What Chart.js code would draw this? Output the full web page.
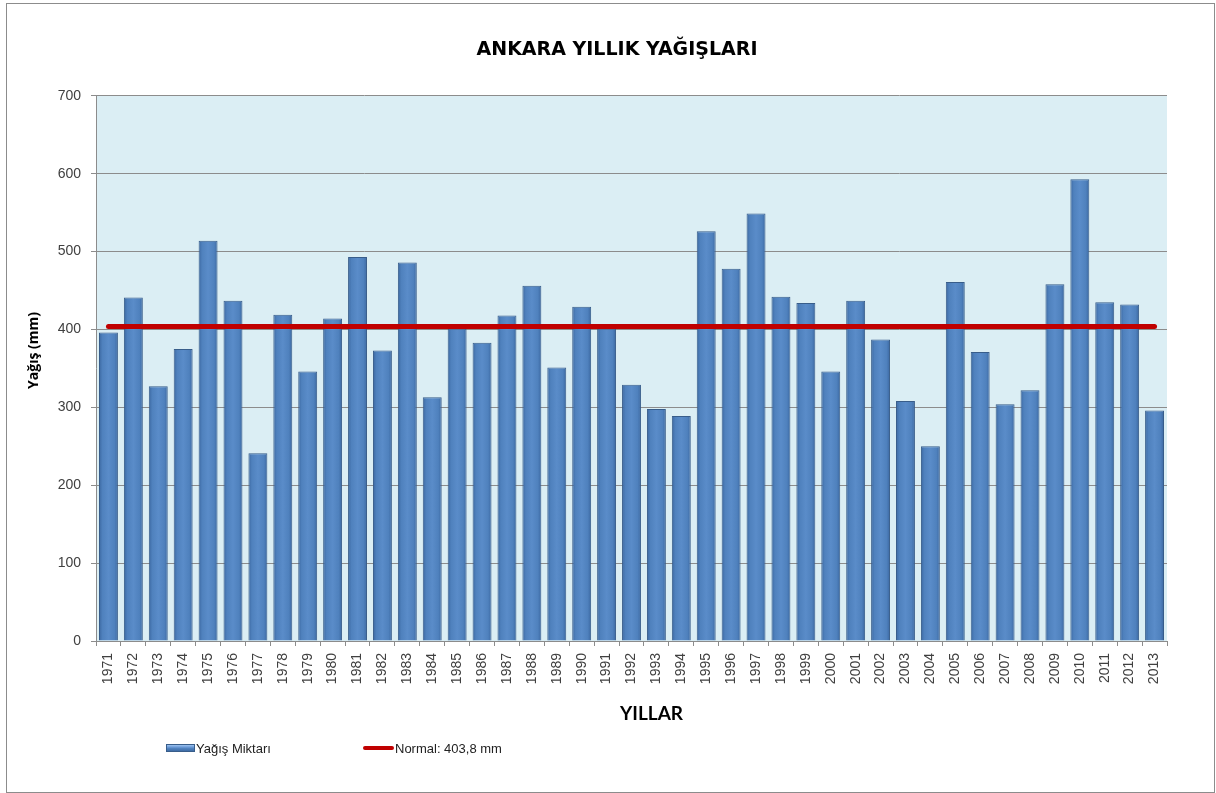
<!DOCTYPE html>
<html lang="tr">
<head>
<meta charset="UTF-8">
<title>Ankara Yıllık Yağışları</title>
<script src="https://cdn.jsdelivr.net/npm/chart.js"></script>
<style>
  body { margin: 0; background: #fff; font-family: 'Liberation Sans', Arial, sans-serif; }
  #wrap { position: absolute; left: 0; top: 0; width: 1216px; height: 793px; }
  #frame { position: absolute; left: 6px; top: 3px; width: 1209px; height: 790px; border: 1px solid #8c8c8c; box-sizing: border-box; }
  .leg { position: absolute; top: 740px; height: 16px; display: flex; align-items: center; font-size: 13px; color: #222; white-space: nowrap; }
  .leg .bar { width: 29px; height: 8px; margin-right: 1px; border: 1px solid #385d8a; box-sizing: border-box;
              background: linear-gradient(#9dc3f0 0%, #6c9bd8 35%, #4f81bd 60%, #3e6ca6 100%); }
  .leg .line { width: 31px; height: 4px; border-radius: 2px; background: #c00000; margin-right: 1px; }
</style>
</head>
<body>
<div id="frame"></div>
<div id="wrap"><canvas id="rainChart"></canvas></div>
<div class="leg" style="left:166px"><span class="bar"></span>Yağış Miktarı</div>
<div class="leg" style="left:363px"><span class="line"></span>Normal: 403,8 mm</div>

<script>
  // years and annual rainfall (mm)
  const years = ['1971','1972','1973','1974','1975','1976','1977','1978','1979','1980',
                 '1981','1982','1983','1984','1985','1986','1987','1988','1989','1990',
                 '1991','1992','1993','1994','1995','1996','1997','1998','1999','2000',
                 '2001','2002','2003','2004','2005','2006','2007','2008','2009','2010',
                 '2011','2012','2013'];
  const rainfall = [396, 441, 327, 375, 514, 437, 241, 419, 346, 414,
                    493, 373, 486, 313, 401, 383, 418, 456, 351, 429,
                    401, 329, 298, 289, 526, 478, 549, 442, 434, 346,
                    437, 387, 308, 250, 461, 371, 304, 322, 458, 593,
                    435, 432, 296];
  const normalValue = 403.8;
  // normal line runs from the first year to the last
  const normalLine = [
    { x: years[0], y: normalValue },
    { x: years[years.length - 1], y: normalValue }
  ];
  const yMin = 0, yMax = 700, yStep = 100;

  const axisGray = '#8c8c8c';
  const tickFont = { family: 'Liberation Sans', size: 14 };

  // light blue plot background, and the chart title pulled a bit to the right
  const plotBg = {
    id: 'plotBg',
    afterLayout(chart) {
      if (chart.titleBlock) chart.titleBlock.left = 67;
    },
    beforeDraw(chart) {
      const { ctx, chartArea: a } = chart;
      ctx.save();
      ctx.fillStyle = '#dbeef4';
      ctx.fillRect(a.left, a.top, a.right - a.left, a.bottom - a.top);
      ctx.restore();
    }
  };

  // shift an axis title by dx, dy (the original's titles are not centred)
  function nudgeTitle(scale, dx, dy) {
    if (scale._nudged) return;
    const orig = scale.drawTitle;
    scale.drawTitle = function () {
      const c = this.ctx;
      c.save();
      c.translate(dx, dy);
      orig.apply(this, arguments);
      c.restore();
    };
    scale._nudged = true;
  }

  // darker edges on each bar, like the shaded bars in the original
  function barFill(context) {
    const chart = context.chart;
    const xs = chart.scales.x;
    if (!chart.chartArea || !xs || context.dataIndex === undefined) return '#4f81bd';
    const xc = xs.getPixelForValue(context.dataIndex);
    const w = xs.width / years.length * 0.76;
    const g = chart.ctx.createLinearGradient(xc - w / 2, 0, xc + w / 2, 0);
    g.addColorStop(0, '#3b67a0');
    g.addColorStop(0.18, '#4f81bd');
    g.addColorStop(0.5, '#5a8cc9');
    g.addColorStop(0.82, '#4f81bd');
    g.addColorStop(1, '#3b67a0');
    return g;
  }

  const ctx = document.getElementById('rainChart').getContext('2d');
  new Chart(ctx, {
    plugins: [plotBg],
    data: {
      labels: years,
      datasets: [
        {
          type: 'line',
          label: 'Normal: 403,8 mm',
          data: normalLine,
          borderColor: '#c00000',
          borderWidth: 5,
          borderCapStyle: 'round',
          pointRadius: 0,
          order: 0
        },
        {
          type: 'bar',
          label: 'Yağış Miktarı',
          data: rainfall,
          backgroundColor: barFill,
          borderColor: '#385d8a',
          borderWidth: 1,
          barPercentage: 0.76,
          categoryPercentage: 1,
          order: 1
        }
      ]
    },
    options: {
      responsive: true,
      maintainAspectRatio: false,
      animation: false,
      layout: { padding: { left: 0, right: 49, top: 0, bottom: 62 } },
      plugins: {
        legend: { display: false },
        tooltip: { enabled: false },
        title: {
          display: true,
          text: 'ANKARA YILLIK YAĞIŞLARI',
          color: '#000',
          font: { family: 'DejaVu Sans', size: 19, weight: 'bold' },
          padding: { top: 39, bottom: 34 }
        }
      },
      scales: {
        x: {
          offset: true,
          grid: { display: true, drawOnChartArea: false, drawTicks: true, tickLength: 5, color: axisGray, offset: true },
          border: { color: axisGray },
          ticks: { autoSkip: false, minRotation: 90, maxRotation: 90, padding: 7, color: '#404040', font: tickFont },
          title: {
            display: true,
            text: 'YILLAR',
            color: '#000',
            font: { family: 'Lato', size: 19, weight: 'bold' },
            padding: { top: 4, bottom: 6 }
          },
          afterFit(scale) {
            scale.height = 90;
            nudgeTitle(scale, 20, 0);
          }
        },
        y: {
          min: yMin,
          max: yMax,
          ticks: { stepSize: yStep, padding: 10, color: '#404040', font: tickFont },
          grid: { color: axisGray, tickLength: 5, drawTicks: true },
          border: { color: axisGray },
          title: {
            display: true,
            text: 'Yağış (mm)',
            color: '#000',
            font: { family: 'Open Sans', size: 14, weight: 'bold' },
            padding: { top: 26, bottom: 0 }
          },
          afterFit(scale) {
            scale.width = 96;
            nudgeTitle(scale, 0, -18);
          }
        }
      }
    }
  });
</script>
</body>
</html>
